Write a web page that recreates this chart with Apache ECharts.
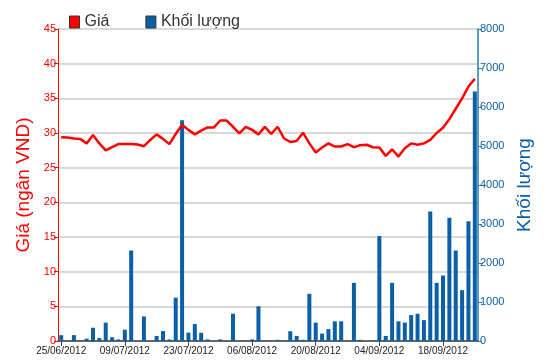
<!DOCTYPE html>
<html>
<head>
<meta charset="utf-8">
<script src="https://cdn.jsdelivr.net/npm/echarts@6/dist/echarts.min.js"></script>
<style>
  html, body { margin: 0; padding: 0; background: #fff; }
  #main { width: 550px; height: 364px; }
</style>
</head>
<body>
<div id="main"></div>
<script>
// ngày giao dịch
var dates = [
  '25/06/2012', '26/06/2012', '27/06/2012', '28/06/2012', '29/06/2012',
  '02/07/2012', '03/07/2012', '04/07/2012', '05/07/2012', '06/07/2012',
  '09/07/2012', '10/07/2012', '11/07/2012', '12/07/2012', '13/07/2012',
  '16/07/2012', '17/07/2012', '18/07/2012', '19/07/2012', '20/07/2012',
  '23/07/2012', '24/07/2012', '25/07/2012', '26/07/2012', '27/07/2012',
  '30/07/2012', '31/07/2012', '01/08/2012', '02/08/2012', '03/08/2012',
  '06/08/2012', '07/08/2012', '08/08/2012', '09/08/2012', '10/08/2012',
  '13/08/2012', '14/08/2012', '15/08/2012', '16/08/2012', '17/08/2012',
  '20/08/2012', '21/08/2012', '22/08/2012', '23/08/2012', '24/08/2012',
  '27/08/2012', '28/08/2012', '29/08/2012', '30/08/2012', '31/08/2012',
  '04/09/2012', '05/09/2012', '06/09/2012', '07/09/2012',
  '10/09/2012', '11/09/2012', '12/09/2012', '13/09/2012', '14/09/2012',
  '17/09/2012', '18/09/2012', '19/09/2012', '20/09/2012', '21/09/2012',
  '24/09/2012', '25/09/2012'
];

// giá (ngàn VND)
var prices = [
  29.4, 29.35, 29.2, 29.15, 28.5, 29.7, 28.5, 27.5, 27.95, 28.4,
  28.4, 28.4, 28.35, 28.1, 29.0, 29.8, 29.15, 28.4, 29.85, 31.2,
  30.45, 29.8, 30.35, 30.8, 30.8, 31.8, 31.8, 30.9, 29.95, 30.9,
  30.45, 29.8, 30.9, 29.85, 30.9, 29.25, 28.7, 28.85, 30.05, 28.5,
  27.2, 27.9, 28.5, 28.05, 28.05, 28.4, 27.95, 28.25, 28.3, 27.95,
  27.9, 26.7, 27.65, 26.6, 27.8, 28.5, 28.3, 28.5, 29.0, 30.0,
  30.75, 32.0, 33.5, 35.0, 36.7, 37.8
];

// khối lượng
var volumes = [
  150, 0, 150, 0, 60, 340, 75, 470, 95, 40,
  290, 2320, 0, 630, 0, 130, 255, 40, 1110, 5660,
  215, 435, 210, 40, 0, 40, 0, 700, 0, 0,
  40, 890, 0, 0, 30, 0, 250, 130, 30, 1210,
  470, 190, 305, 505, 505, 0, 1490, 30, 0, 0,
  2690, 130, 1490, 505, 470, 665, 700, 535, 3320, 1490,
  1680, 3160, 2320, 1305, 3070, 6400
];

var priceTicks = { min: 0, max: 45, interval: 5 };
var volumeTicks = { min: 0, max: 8000, interval: 1000 };

var fontName = '"Liberation Sans", Arial, sans-serif';
var red = '#ff0000';
var blue = '#0a5fa8';

var myChart = echarts.init(document.getElementById('main'));
var option = {
  animation: false,
  backgroundColor: '#ffffff',
  textStyle: { fontFamily: fontName },
  legend: {
    left: 64,
    top: 9,
    icon: 'rect',
    itemWidth: 10,
    itemHeight: 12,
    itemGap: 36,
    textStyle: { fontSize: 16, color: '#333', fontFamily: fontName },
    data: [
      { name: 'Giá', itemStyle: { color: red, borderColor: '#333', borderWidth: 1 } },
      { name: 'Khối lượng', itemStyle: { color: blue, borderColor: '#333', borderWidth: 1 } }
    ]
  },
  grid: {
    left: 58,
    right: 72,
    top: 29,
    bottom: 23
  },
  xAxis: [
    {
      type: 'category',
      data: dates,
      boundaryGap: true,
      axisLine: { show: true, lineStyle: { color: '#444', width: 1.5 } },
      axisTick: { show: true, interval: 9, alignWithLabel: true, length: 5, lineStyle: { color: '#444' } },
      axisLabel: { interval: 9, color: '#222', fontSize: 10, margin: 5, fontFamily: fontName },
      splitLine: { show: false }
    },
    {
      // đường viền trên
      type: 'category',
      position: 'top',
      data: dates,
      axisLine: { show: true, lineStyle: { color: '#666', width: 2 } },
      axisTick: { show: false },
      axisLabel: { show: false },
      splitLine: { show: false }
    }
  ],
  yAxis: [
    {
      type: 'value',
      position: 'left',
      min: priceTicks.min,
      max: priceTicks.max,
      interval: priceTicks.interval,
      name: 'Giá (ngân VND)',
      nameLocation: 'middle',
      nameRotate: 90,
      nameGap: 25,
      nameTextStyle: { color: red, fontSize: 19, fontFamily: fontName },
      axisLine: { show: true, lineStyle: { color: red, width: 1 } },
      axisTick: { show: true, inside: false, length: 4, lineStyle: { color: red } },
      axisLabel: { color: red, fontSize: 11, margin: 2, fontFamily: fontName },
      splitLine: { show: true, lineStyle: { color: '#cccccc', width: 1.5 } }
    },
    {
      type: 'value',
      position: 'right',
      min: volumeTicks.min,
      max: volumeTicks.max,
      interval: volumeTicks.interval,
      name: 'Khối lượng',
      nameLocation: 'middle',
      nameRotate: 90,
      nameGap: 34,
      nameTextStyle: { color: blue, fontSize: 19, fontFamily: fontName },
      axisLine: { show: true, lineStyle: { color: '#2a7ab8', width: 1.5 } },
      axisTick: { show: true, inside: false, length: 4, lineStyle: { color: '#2a7ab8' } },
      axisLabel: {
        color: blue,
        fontSize: 11,
        margin: 2,
        fontFamily: fontName,
        formatter: function (v) { return String(v); }
      },
      splitLine: { show: false }
    }
  ],
  series: [
    {
      name: 'Khối lượng',
      type: 'bar',
      xAxisIndex: 0,
      yAxisIndex: 1,
      barWidth: 4,
      itemStyle: { color: blue },
      data: volumes
    },
    {
      name: 'Giá',
      type: 'line',
      xAxisIndex: 0,
      yAxisIndex: 0,
      symbol: 'none',
      smooth: false,
      lineStyle: { color: red, width: 2.5 },
      itemStyle: { color: red },
      z: 5,
      data: prices
    }
  ]
};
myChart.setOption(option);
</script>
</body>
</html>
